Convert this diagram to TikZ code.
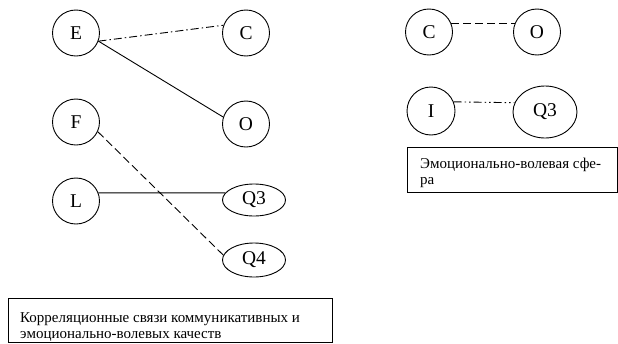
\documentclass[tikz,border=0pt]{standalone}
\usepackage{fontspec}
\setmainfont{Liberation Serif}
\usetikzlibrary{shapes.geometric}
\tikzset{
  factor/.style={draw, ellipse, line width=0.9pt, inner sep=0pt,
    minimum width=47pt, minimum height=46pt, font=\fontsize{19.5}{22}\selectfont},
  widefactor/.style={factor, minimum width=63pt, minimum height=32pt},
  link/.style={line width=0.9pt},
  dashlink/.style={link, dash pattern=on 8pt off 4pt},
  dotlink/.style={link, dash pattern=on 8pt off 3pt on 1.5pt off 3pt},
  dotdotlink/.style={link, dash pattern=on 8pt off 3pt on 1.5pt off 3pt on 1.5pt off 3pt},
  frame/.style={draw, line width=0.9pt, rectangle},
  caption/.style={anchor=base west, inner sep=0pt, font=\fontsize{15}{16}\selectfont}
}
\begin{document}
\begin{tikzpicture}[x=1pt, y=-1pt]
\useasboundingbox (0,0) rectangle (618,343);

% communicative and emotional-volitional factors
\node[factor] (E) at (76,33) {E};
\node[factor] (C) at (246,33) {C};
\node[factor] (F) at (76,122) {F};
\node[factor] (O) at (246,124) {O};
\node[factor] (L) at (76,201) {L};
\node[widefactor] (Q3) at (254,200) {Q3};
\node[widefactor, minimum height=34pt] (Q4) at (254,260) {Q4};

\draw[dotlink] (E.-20) -- (C.161);
\draw[link] (E.-20) -- (O.163);
\draw[dashlink] (F.-24) -- (Q4.171);
\draw[link] (L.20) -- (Q3.166);

% emotional-volitional sphere
\node[factor] (C2) at (429,32) {C};
\node[factor] (O2) at (537,32) {O};
\node[factor, minimum width=48pt, minimum height=48pt] (I) at (431,111) {I};
\node[widefactor, minimum width=64pt, minimum height=52pt] (Q3b) at (545,112) {Q3};

\draw[dashlink] (C2.20) -- (O2.160);
\draw[dotdotlink] (I.22) -- (Q3b.163);

% captions
\node[frame, minimum width=324pt, minimum height=44pt] (box1) at (170,320) {};
\node[caption] (cap1a) at (20,322) {Корреляционные связи коммуникативных и};
\node[caption] (cap1b) at (20,338) {эмоционально-волевых качеств};

\node[frame, minimum width=210pt, minimum height=45pt] (box2) at (512,169.5) {};
\node[caption] (cap2a) at (420,168) {Эмоционально-волевая сфе-};
\node[caption] (cap2b) at (420,184) {ра};
\end{tikzpicture}
\end{document}
